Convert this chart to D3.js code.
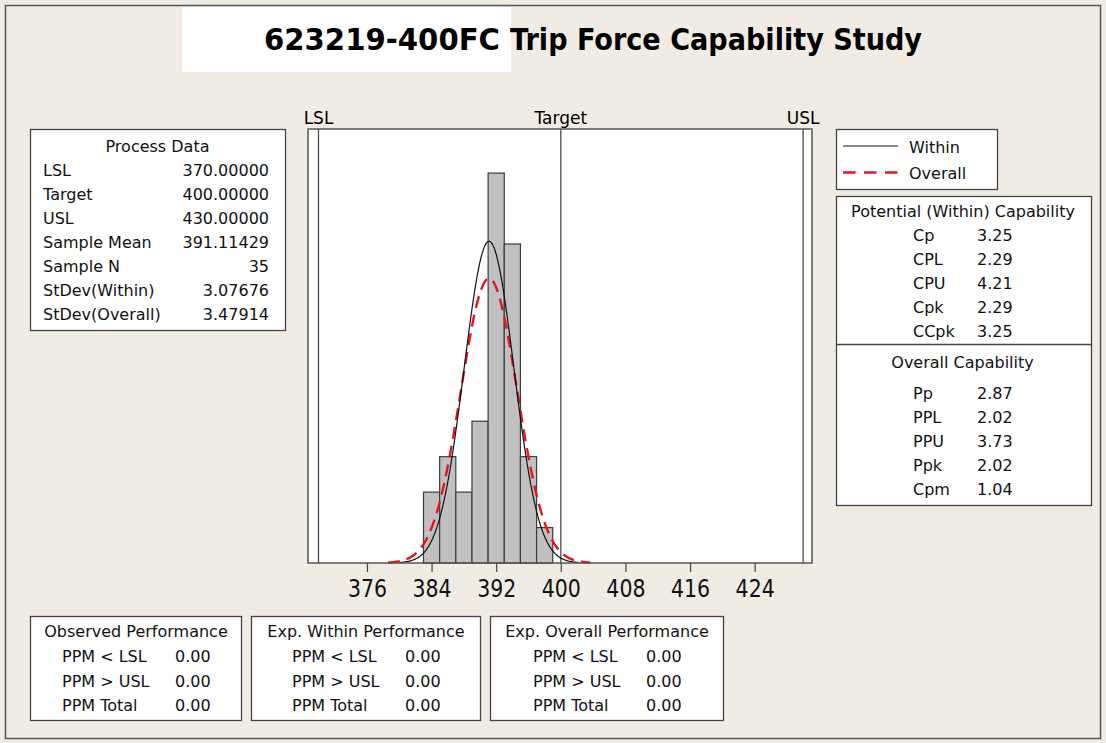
<!DOCTYPE html>
<html>
<head>
<meta charset="utf-8">
<script src="https://cdn.jsdelivr.net/npm/d3@7"></script>
<style>
  body { margin: 0; background: #f0ece3; }
  svg { display: block; font-family: "DejaVu Sans", Verdana, sans-serif; }
</style>
</head>
<body>
<svg width="1106" height="743"></svg>
<script>
// chart data
const titleId = "623219-400FC";
const titleText = "Trip Force Capability Study";

// histogram bins (mid points) and counts
const binMids = [384, 386, 388, 390, 392, 394, 396, 398];
const binCounts = [2, 3, 2, 4, 11, 9, 3, 1];
const binWidth = 2;

const specNames = ["LSL", "Target", "USL"];
const specValues = [370, 400, 430];

const sampleMean = 391.11429;
const sampleN = 35;
const sdWithin = 3.07676;
const sdOverall = 3.47914;

const majorTicks = [376, 384, 392, 400, 408, 416, 424];
const minorTicks = [372, 380, 388, 396, 404, 412, 420, 428];

const processLabels = ["LSL", "Target", "USL", "Sample Mean", "Sample N", "StDev(Within)", "StDev(Overall)"];
const processValues = ["370.00000", "400.00000", "430.00000", "391.11429", "35", "3.07676", "3.47914"];

const withinLabels = ["Cp", "CPL", "CPU", "Cpk", "CCpk"];
const withinValues = ["3.25", "2.29", "4.21", "2.29", "3.25"];
const overallLabels = ["Pp", "PPL", "PPU", "Ppk", "Cpm"];
const overallValues = ["2.87", "2.02", "3.73", "2.02", "1.04"];

const perfTitles = ["Observed Performance", "Exp. Within Performance", "Exp. Overall Performance"];
const perfLabels = ["PPM < LSL", "PPM > USL", "PPM Total"];
const perfValues = [["0.00", "0.00", "0.00"], ["0.00", "0.00", "0.00"], ["0.00", "0.00", "0.00"]];

const svg = d3.select("svg");
const boxStroke = "#444";

// 1. background + outer border
svg.append("rect")
    .attr("x", 5.5).attr("y", 5.5)
    .attr("width", 1095).attr("height", 733)
    .attr("fill", "#f0ece3")
    .attr("stroke", "#555")
    .attr("stroke-width", 1.5);

// 2. title
svg.append("rect")
    .attr("x", 182).attr("y", 7)
    .attr("width", 329).attr("height", 65)
    .attr("fill", "#fff");

svg.append("text")
    .attr("x", 264).attr("y", 50)
    .attr("font-size", 31).attr("font-weight", "bold")
    .attr("textLength", 236).attr("lengthAdjust", "spacingAndGlyphs")
    .text(titleId);

svg.append("text")
    .attr("x", 510).attr("y", 50)
    .attr("font-size", 31).attr("font-weight", "bold")
    .attr("textLength", 412).attr("lengthAdjust", "spacingAndGlyphs")
    .text(titleText);

// 3. histogram
const x = d3.scaleLinear().domain([368.7, 431.1]).range([308, 812]);
const y = d3.scaleLinear().domain([0, 0.1749]).range([563, 129]);

svg.append("rect")
    .attr("x", 308).attr("y", 129)
    .attr("width", 504).attr("height", 434)
    .attr("fill", "#fff");

const bins = binMids.map((m, i) => ({ mid: m, dens: binCounts[i] / (sampleN * binWidth) }));

svg.append("g")
    .selectAll("rect")
    .data(bins)
    .enter()
    .append("rect")
    .attr("x", d => x(d.mid - binWidth / 2))
    .attr("y", d => y(d.dens))
    .attr("width", d => x(d.mid + binWidth / 2) - x(d.mid - binWidth / 2))
    .attr("height", d => y(0) - y(d.dens))
    .attr("fill", "#c0c0c0")
    .attr("stroke", "#3c3c3c")
    .attr("stroke-width", 1.2);

// spec lines
svg.append("g")
    .selectAll("line")
    .data(specValues)
    .enter()
    .append("line")
    .attr("x1", d => x(d)).attr("x2", d => x(d))
    .attr("y1", 129).attr("y2", 563)
    .attr("stroke", "#4a4a4a")
    .attr("stroke-width", 1.3);

svg.append("g")
    .selectAll("text")
    .data(specValues)
    .enter()
    .append("text")
    .attr("x", d => x(d))
    .attr("y", 124)
    .attr("text-anchor", "middle")
    .attr("font-size", 17)
    .text((d, i) => specNames[i]);

// normal curves (fitted from the mean / stdev shown)
function normalPts(sd) {
    return d3.range(sampleMean - 3.6 * sd, sampleMean + 3.6 * sd + 0.001, 0.05).map(v => [v,
        Math.exp(-0.5 * Math.pow((v - sampleMean) / sd, 2)) / (sd * Math.sqrt(2 * Math.PI))]);
}
const line = d3.line().x(d => x(d[0])).y(d => y(d[1])).curve(d3.curveBasis);

svg.append("path")
    .attr("d", line(normalPts(sdOverall)))
    .attr("fill", "none")
    .attr("stroke", "#e8141a")
    .attr("stroke-width", 2.4)
    .attr("stroke-dasharray", "12,7");

svg.append("path")
    .attr("d", line(normalPts(sdWithin)))
    .attr("fill", "none")
    .attr("stroke", "#111")
    .attr("stroke-width", 1.2);

// frame on top
svg.append("rect")
    .attr("x", 308).attr("y", 129)
    .attr("width", 504).attr("height", 434)
    .attr("fill", "none")
    .attr("stroke", "#555")
    .attr("stroke-width", 1.5);

// axis
const axisG = svg.append("g").attr("transform", "translate(0,563)");
axisG.call(d3.axisBottom(x).tickValues(minorTicks).tickSize(5).tickFormat(""));
axisG.call(d3.axisBottom(x).tickValues(majorTicks).tickSize(9).tickFormat(d3.format("d")));
axisG.selectAll(".domain").remove();
axisG.selectAll("line").attr("stroke", "#444").attr("stroke-width", 1.2);
axisG.selectAll("text")
    .attr("y", 34).attr("dy", null)
    .attr("font-family", "DejaVu Sans, sans-serif")
    .attr("font-size", 25)
    .attr("fill", "#111")
    .attr("transform", "scale(0.82,1)");

// 4. Process Data box
function box(x0, y0, w, h) {
    svg.append("rect")
        .attr("x", x0).attr("y", y0)
        .attr("width", w).attr("height", h)
        .attr("fill", "#fff")
        .attr("stroke", boxStroke)
        .attr("stroke-width", 1.3);
}
function txt(tx, ty, s, anchor) {
    svg.append("text")
        .attr("x", tx).attr("y", ty)
        .attr("font-size", 16)
        .attr("fill", "#111")
        .attr("text-anchor", anchor || "start")
        .text(s);
}

box(30.5, 129.5, 255, 201);
txt(157.5, 152, "Process Data", "middle");
processLabels.forEach((l, i) => {
    txt(43, 176 + i * 24, l);
    txt(269, 176 + i * 24, processValues[i], "end");
});

// 5. legend
box(836.5, 129.5, 161, 60);
svg.append("line").attr("x1", 843).attr("x2", 898).attr("y1", 146).attr("y2", 146)
    .attr("stroke", "#111").attr("stroke-width", 1.2);
txt(909, 152.5, "Within");
svg.append("line").attr("x1", 843).attr("x2", 898).attr("y1", 172.5).attr("y2", 172.5)
    .attr("stroke", "#e8141a").attr("stroke-width", 2.4).attr("stroke-dasharray", "12.5,8.5");
txt(909, 178.5, "Overall");

// 6. capability box
box(836.5, 196.5, 255, 309);
svg.append("line").attr("x1", 836.5).attr("x2", 1091.5).attr("y1", 344.5).attr("y2", 344.5)
    .attr("stroke", boxStroke).attr("stroke-width", 1.3);
txt(963, 217, "Potential (Within) Capability", "middle");
withinLabels.forEach((l, i) => {
    txt(913, 241 + i * 24, l);
    txt(977, 241 + i * 24, withinValues[i]);
});
txt(962.5, 368, "Overall Capability", "middle");
overallLabels.forEach((l, i) => {
    txt(913, 398.5 + i * 24.2, l);
    txt(977, 398.5 + i * 24.2, overallValues[i]);
});

// 7. performance boxes
const perfX = [30.5, 251.5, 490.5];
const perfW = [211, 229, 233];
perfTitles.forEach((t, j) => {
    box(perfX[j], 616.5, perfW[j], 104);
    const cx = perfX[j] + perfW[j] / 2;
    txt(cx, 637, t, "middle");
    perfLabels.forEach((l, i) => {
        txt(cx - 74, 662 + i * 24.7, l);
        txt(cx + 39, 662 + i * 24.7, perfValues[j][i]);
    });
});
</script>
</body>
</html>
